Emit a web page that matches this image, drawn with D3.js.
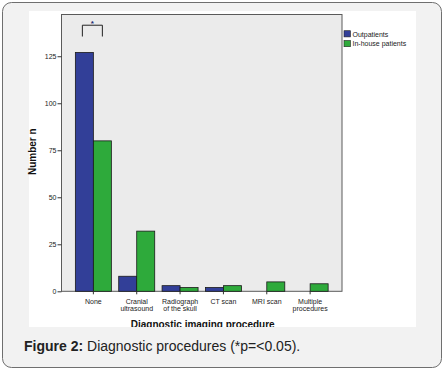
<!DOCTYPE html>
<html>
<head>
<meta charset="utf-8">
<script src="https://cdn.jsdelivr.net/npm/d3@7"></script>
<style>
  body { margin: 0; background: #fff; }
  svg { display: block; font-family: Arial, "Liberation Sans", sans-serif; }
</style>
</head>
<body>
<svg id="chart" width="445" height="371"></svg>
<script>
// categories and values
var categories = ["None", "Cranial ultrasound", "Radiograph of the skull", "CT scan", "MRI scan", "Multiple procedures"];
var catLines = [["None"], ["Cranial", "ultrasound"], ["Radiograph", "of the skull"], ["CT scan"], ["MRI scan"], ["Multiple", "procedures"]];
var seriesNames = ["Outpatients", "In-house patients"];
var outpatients = [127, 8, 3, 2, 0, 0];
var inhouse = [80, 32, 2, 3, 5, 4];
var yTicks = [0, 25, 50, 75, 100, 125];
var colors = ["#323f98", "#2eaa3b"];

var svg = d3.select("#chart");

// outer frame of the figure
svg.append("rect")
    .attr("x", 2.5).attr("y", 2.5)
    .attr("width", 439).attr("height", 365)
    .attr("rx", 9).attr("ry", 9)
    .style("fill", "#f2f2f2")
    .style("stroke", "#6f6f6f");

// white picture area (the image is cropped at its bottom edge)
svg.append("clipPath").attr("id", "imgclip")
    .append("rect")
    .attr("x", 29).attr("y", 11)
    .attr("width", 387).attr("height", 316);

svg.append("rect")
    .attr("x", 29).attr("y", 11)
    .attr("width", 387).attr("height", 316)
    .style("fill", "#fff");

var plot = { left: 61.5, right: 342, top: 14.5, bottom: 291.3 };

var x = d3.scaleBand()
    .domain(categories)
    .range([plot.left, plot.right])
    .paddingInner(0.17)
    .paddingOuter(0.32);

var y = d3.scaleLinear()
    .domain([0, 147.2])
    .range([plot.bottom, plot.top]);

var barW = 18;

// plot background
svg.append("rect")
    .attr("x", plot.left).attr("y", plot.top)
    .attr("width", plot.right - plot.left)
    .attr("height", plot.bottom - plot.top)
    .style("fill", "#ebebeb")
    .style("stroke", "#5a5a5a")
    .style("stroke-width", 1);

var rows = categories.map(function (c, i) {
    return { cat: c, vals: [outpatients[i], inhouse[i]] };
});

var g = svg.append("g");
rows.forEach(function (r) {
    var cx = x(r.cat) + x.bandwidth() / 2;
    r.vals.forEach(function (v, j) {
        if (v <= 0) return;
        g.append("rect")
            .attr("x", cx - barW + j * barW)
            .attr("y", y(v))
            .attr("width", barW)
            .attr("height", y(0) - y(v))
            .style("fill", colors[j])
            .style("stroke", "#1a1a1a")
            .style("stroke-width", 0.8);
    });
});

// y axis
var yAxis = svg.append("g")
    .attr("transform", "translate(" + plot.left + ",0)")
    .call(d3.axisLeft(y).tickValues(yTicks).tickSize(4).tickPadding(1));
yAxis.select(".domain").remove();
yAxis.selectAll("line").style("stroke", "#333");
yAxis.selectAll("text").style("font-size", "7px").style("fill", "#222");

// x axis
var xAxis = svg.append("g")
    .attr("transform", "translate(0," + plot.bottom + ")")
    .call(d3.axisBottom(x).tickSize(3).tickFormat(""));
xAxis.select(".domain").remove();
xAxis.selectAll("line").style("stroke", "#333");

xAxis.selectAll(".tick").each(function (d, i) {
    var t = d3.select(this).append("text")
        .attr("text-anchor", "middle")
        .style("font-size", "7px")
        .style("fill", "#222");
    catLines[i].forEach(function (line, k) {
        t.append("tspan").attr("x", 0).attr("y", 12.5 + k * 7.5).text(line);
    });
});

// axis titles
svg.append("text")
    .attr("clip-path", "url(#imgclip)")
    .attr("x", 202.7).attr("y", 327.5)
    .attr("text-anchor", "middle")
    .style("font-size", "10px").style("font-weight", "bold")
    .style("fill", "#111")
    .text("Diagnostic imaging procedure");

svg.append("text")
    .attr("transform", "translate(36,151.7) rotate(-90)")
    .attr("text-anchor", "middle")
    .style("font-size", "10px").style("font-weight", "bold")
    .style("fill", "#111")
    .text("Number n");

// significance bracket over "None"
var c0 = x("None") + x.bandwidth() / 2;
svg.append("path")
    .attr("d", "M" + (c0 - 11) + "," + y(125 + 10.5) + "V" + y(125 + 16.5) + "H" + (c0 + 9) + "V" + y(125 + 10.5))
    .style("fill", "none")
    .style("stroke", "#222")
    .style("stroke-width", 1);
svg.append("text")
    .attr("x", c0 - 1).attr("y", y(125 + 16.5) + 1)
    .attr("text-anchor", "middle")
    .style("font-size", "8px").style("font-weight", "bold").style("fill", "#1c2a70")
    .text("*");

// legend
var leg = svg.append("g").attr("transform", "translate(344,30.7)");
seriesNames.forEach(function (s, i) {
    leg.append("rect")
        .attr("x", 0).attr("y", i * 9.8)
        .attr("width", 6.5).attr("height", 6.2)
        .style("fill", colors[i])
        .style("stroke", "#222")
        .style("stroke-width", 0.6);
    leg.append("text")
        .attr("x", 8.5).attr("y", i * 9.8 + 6)
        .style("font-size", "7px").style("fill", "#222")
        .text(s);
});

// caption
var cap = svg.append("text")
    .attr("x", 24).attr("y", 351)
    .style("font-size", "14px")
    .style("fill", "#222");
cap.append("tspan").style("font-weight", "bold").text("Figure 2:");
cap.append("tspan").text(" Diagnostic procedures (*p=<0.05).");
</script>
</body>
</html>
